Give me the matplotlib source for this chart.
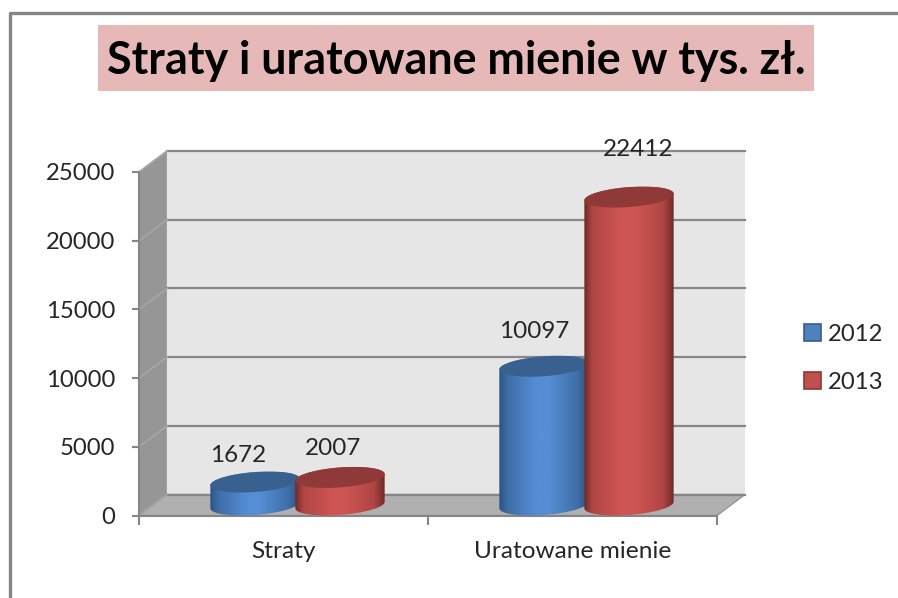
import numpy as np
import matplotlib
matplotlib.use("Agg")
import matplotlib.pyplot as plt
from matplotlib.colors import LinearSegmentedColormap
from matplotlib.lines import Line2D
from matplotlib.patches import Patch, PathPatch, Polygon, Rectangle
from matplotlib.path import Path

plt.rcParams["font.family"] = "Lato"

TITLE = "Straty i uratowane mienie w tys. zł."
CATEGORIES = ["Straty", "Uratowane mienie"]
YEARS = ["2012", "2013"]
VALUES_2012 = [1672, 10097]
VALUES_2013 = [2007, 22412]
Y_TICKS = [0, 5000, 10000, 15000, 20000, 25000]

W, H = 898, 598
TEXT = "#262626"
AXIS = "#868686"

# pixels of the front plane of the 3d box
LEFT, RIGHT, TOP, BOTTOM = 139, 717, 172, 515.5
PX_X = (RIGHT - LEFT) / len(CATEGORIES)
PX_Y = (BOTTOM - TOP) / Y_TICKS[-1]

# depth of the box and size of a cylinder, in data units
DEPTH_X = 28 / PX_X
DEPTH_Y = 21 / PX_Y
BAR_STEP = 85 / PX_X
RADIUS = 42.4 / PX_X

# edge, light, top, mid
BLUE = ("#2a5482", "#558ed5", "#38618f", "#3f6ea6")
RED = ("#6f2a28", "#cf5553", "#8f3a38", "#b04644")

fig = plt.figure(figsize=(W / 100, H / 100), dpi=100)
ax = fig.add_axes([LEFT / W, 1 - BOTTOM / H, (RIGHT - LEFT) / W, (BOTTOM - TOP) / H])
ax.patch.set_visible(False)
ax.set_xlim(0, len(CATEGORIES))
ax.set_ylim(0, Y_TICKS[-1])


def ellipse(cx, cy, t):
    # circle seen through the same projection as the box
    x = cx + RADIUS * np.cos(t) + DEPTH_X / 2 * np.sin(t)
    y = cy + DEPTH_Y / 2 * np.sin(t)
    return x, y


def cylinder(pos, value, colors, z):
    edge, light, top_color, mid = colors
    cx = pos + DEPTH_X / 2
    cy = DEPTH_Y / 2
    # angle where the outline of the ellipse is furthest right
    t0 = np.arctan2(DEPTH_X / 2, RADIUS)
    t = np.linspace(t0, t0 + 2 * np.pi, 121)
    half = t[:61]

    x1, y1 = ellipse(cx, value + cy, half)
    x2, y2 = ellipse(cx, cy, half + np.pi)
    body = np.column_stack([np.r_[x1, x2], np.r_[y1, y2]])
    clip = PathPatch(Path(np.vstack([body, body[:1]])), transform=ax.transData,
                     facecolor="none", edgecolor="none")
    ax.add_patch(clip)

    span = x1.max() - x1.min()
    cmap = LinearSegmentedColormap.from_list(
        "c", [(0, edge), (0.09, mid), (0.42, light), (0.56, light), (0.88, mid), (1, edge)])
    img = ax.imshow(np.linspace(0, 1, 128).reshape(1, -1), cmap=cmap, aspect="auto", zorder=z,
                    extent=[cx - span / 2, cx + span / 2, 0, value + DEPTH_Y], interpolation="bilinear")
    img.set_clip_path(clip)

    x, y = ellipse(cx, value + cy, t)
    ax.fill(x, y, color=top_color, lw=0, zorder=z + 0.1)


# box: side wall, back wall, floor
ax.add_patch(Polygon([(0, 0), (0, Y_TICKS[-1]), (DEPTH_X, Y_TICKS[-1] + DEPTH_Y), (DEPTH_X, DEPTH_Y)],
                     closed=True, facecolor="#969696", edgecolor="#a6a6a6", lw=1, clip_on=False, zorder=1))
ax.add_patch(Polygon([(DEPTH_X, DEPTH_Y), (DEPTH_X, Y_TICKS[-1] + DEPTH_Y),
                      (2 + DEPTH_X, Y_TICKS[-1] + DEPTH_Y), (2 + DEPTH_X, DEPTH_Y)],
                     closed=True, facecolor="#e6e6e6", edgecolor="none", clip_on=False, zorder=1))
ax.add_patch(Polygon([(0, 0), (2, 0), (2 + DEPTH_X, DEPTH_Y), (DEPTH_X, DEPTH_Y)],
                     closed=True, facecolor="#b0b0b0", edgecolor="#969696", lw=1, clip_on=False, zorder=1))

for v in Y_TICKS:
    ax.plot([DEPTH_X, 2 + DEPTH_X], [v + DEPTH_Y, v + DEPTH_Y], color=AXIS, lw=1.6, clip_on=False, zorder=2)
    ax.plot([0, DEPTH_X], [v, v + DEPTH_Y], color="#a6a6a6", lw=1.2, clip_on=False, zorder=2)

# hand placed labels in the original, offsets from the top of each cylinder (pixels)
label_dx = [[-17, -7], [-10, 9]]
label_dy = [[27, 29], [35, 48]]

for s, values in enumerate([VALUES_2012, VALUES_2013]):
    colors = BLUE if s == 0 else RED
    for i, v in enumerate(values):
        pos = i + 0.5 + (s - 0.5) * BAR_STEP
        cylinder(pos, v, colors, 3 + s)
        ax.annotate(str(v), (pos + DEPTH_X / 2, v + DEPTH_Y / 2),
                    xytext=(label_dx[i][s], label_dy[i][s]), textcoords="offset pixels",
                    ha="center", va="center", fontsize=17.5, color=TEXT, zorder=6)

ax.set_xlim(0, len(CATEGORIES))
ax.set_ylim(0, Y_TICKS[-1])

ax.set_yticks(Y_TICKS)
ax.set_xticks([0, 1, 2])
ax.set_xticklabels([])
ax.set_xticks([0.5, 1.5], minor=True)
ax.set_xticklabels(CATEGORIES, minor=True, fontsize=17.6, color=TEXT)
ax.tick_params(axis="y", length=5, width=1.5, color=AXIS, pad=12, labelsize=17.2, labelcolor=TEXT)
ax.tick_params(axis="x", which="major", length=6.5, width=1.5, color=AXIS)
ax.tick_params(axis="x", which="minor", length=0, pad=18.5)
for side in ["top", "right"]:
    ax.spines[side].set_visible(False)
for side in ["left", "bottom"]:
    ax.spines[side].set_color(AXIS)
    ax.spines[side].set_linewidth(1.5)
    ax.spines[side].set_zorder(2.5)

handles = [Patch(facecolor="#4f81bd", edgecolor="#385d8a", lw=1.2),
           Patch(facecolor="#c0504d", edgecolor="#8c3836", lw=1.2)]
fig.legend(handles, YEARS, loc="center left", bbox_to_anchor=(782 / W, 1 - 358.5 / H), frameon=False,
           fontsize=17.2, labelcolor=TEXT, handlelength=0.75, handleheight=0.73,
           handletextpad=0.25, labelspacing=1.13)

# outer frame and title
fig.add_artist(Line2D([10 / W, 10 / W, 1], [0, 1 - 13 / H, 1 - 13 / H], color=AXIS, lw=2.4))
fig.add_artist(Rectangle((98 / W, 1 - 91 / H), 716 / W, 66 / H, transform=fig.transFigure,
                         facecolor="#e6b8b7", edgecolor="none"))
fig.text(456 / W, 1 - 61 / H, TITLE, ha="center", va="center", fontsize=32.3, fontweight="bold", color="black")

fig.savefig("out.png", dpi=100)
